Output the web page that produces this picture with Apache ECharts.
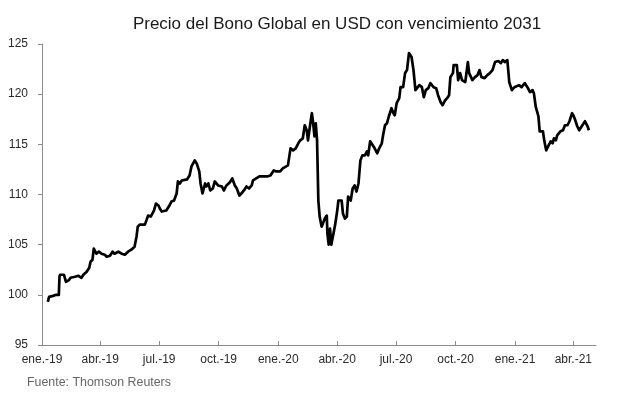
<!DOCTYPE html>
<html>
<head>
<meta charset="utf-8">
<script src="https://cdn.jsdelivr.net/npm/echarts@6/dist/echarts.min.js"></script>
<style>html,body{margin:0;padding:0;background:#fff}#c{width:617px;height:398px}</style>
</head>
<body>
<div id="c"></div>
<script>
var titleText = 'Precio del Bono Global en USD con vencimiento 2031';
var sourceText = 'Fuente: Thomson Reuters';
var yTicks = [95, 100, 105, 110, 115, 120, 125];
var quarterTicks = ['2019-01-01','2019-04-01','2019-07-01','2019-10-01','2020-01-01','2020-04-01','2020-07-01','2020-10-01','2021-01-01','2021-04-01'];
var monthNames = ['ene.','feb.','mar.','abr.','may.','jun.','jul.','ago.','sep.','oct.','nov.','dic.'];

var dates = [
'2019-01-10','2019-01-12','2019-01-18','2019-01-23','2019-01-27','2019-01-28','2019-01-29','2019-02-04','2019-02-07','2019-02-12',
'2019-02-14','2019-02-21','2019-02-26','2019-03-03','2019-03-06','2019-03-11','2019-03-15','2019-03-17','2019-03-20','2019-03-22',
'2019-03-23','2019-03-26','2019-03-30','2019-04-03','2019-04-08','2019-04-11','2019-04-16','2019-04-20','2019-04-23','2019-04-29',
'2019-05-04','2019-05-09','2019-05-14','2019-05-19','2019-05-24','2019-05-27','2019-05-29','2019-06-01','2019-06-04','2019-06-09',
'2019-06-14','2019-06-18','2019-06-23','2019-06-26','2019-06-30','2019-07-02','2019-07-05','2019-07-07','2019-07-12','2019-07-16',
'2019-07-20','2019-07-24','2019-07-28','2019-07-30','2019-08-02','2019-08-05','2019-08-08','2019-08-13','2019-08-17','2019-08-20',
'2019-08-25','2019-08-28','2019-09-01','2019-09-03','2019-09-06','2019-09-10','2019-09-12','2019-09-15','2019-09-18','2019-09-22',
'2019-09-25','2019-09-30','2019-10-06','2019-10-09','2019-10-13','2019-10-18','2019-10-22','2019-10-26','2019-10-29','2019-11-02',
'2019-11-05','2019-11-09','2019-11-13','2019-11-17','2019-11-21','2019-11-23','2019-11-28','2019-12-03','2019-12-06','2019-12-10',
'2019-12-15','2019-12-20','2019-12-25','2019-12-29','2020-01-04','2020-01-08','2020-01-11','2020-01-16','2020-01-20','2020-01-24',
'2020-01-28','2020-02-01','2020-02-04','2020-02-08','2020-02-11','2020-02-14','2020-02-16','2020-02-19','2020-02-22','2020-02-24',
'2020-02-26','2020-02-28','2020-03-01','2020-03-03','2020-03-05','2020-03-08','2020-03-10','2020-03-13','2020-03-16','2020-03-17',
'2020-03-19','2020-03-21','2020-03-23','2020-03-26','2020-03-29','2020-04-01','2020-04-03','2020-04-05','2020-04-08','2020-04-10',
'2020-04-13','2020-04-16','2020-04-18','2020-04-22','2020-04-25','2020-04-28','2020-05-01','2020-05-04','2020-05-07','2020-05-10',
'2020-05-14','2020-05-17','2020-05-19','2020-05-22','2020-05-26','2020-05-29','2020-06-02','2020-06-05','2020-06-09','2020-06-11',
'2020-06-14','2020-06-17','2020-06-20','2020-06-24','2020-06-27','2020-06-29','2020-07-02','2020-07-06','2020-07-08','2020-07-12',
'2020-07-15','2020-07-18','2020-07-21','2020-07-25','2020-07-28','2020-07-31','2020-08-03','2020-08-06','2020-08-10','2020-08-13',
'2020-08-16','2020-08-20','2020-08-23','2020-08-28','2020-09-01','2020-09-04','2020-09-08','2020-09-11','2020-09-15','2020-09-18',
'2020-09-21','2020-09-23','2020-09-27','2020-09-28','2020-10-03','2020-10-05','2020-10-08','2020-10-11','2020-10-16','2020-10-18',
'2020-10-20','2020-10-22','2020-10-24','2020-10-27','2020-10-31','2020-11-04','2020-11-07','2020-11-10','2020-11-15','2020-11-19',
'2020-11-23','2020-11-27','2020-12-01','2020-12-06','2020-12-10','2020-12-13','2020-12-16','2020-12-20','2020-12-23','2020-12-27',
'2020-12-31','2021-01-03','2021-01-07','2021-01-11','2021-01-16','2021-01-20','2021-01-24','2021-01-28','2021-01-30','2021-02-02',
'2021-02-06','2021-02-08','2021-02-13','2021-02-15','2021-02-18','2021-02-21','2021-02-25','2021-02-28','2021-03-02','2021-03-05',
'2021-03-07','2021-03-10','2021-03-12','2021-03-16','2021-03-19','2021-03-23','2021-03-26','2021-03-30','2021-04-01','2021-04-04',
'2021-04-07','2021-04-10','2021-04-14','2021-04-16','2021-04-19','2021-04-22','2021-04-23','2021-04-25'
];
var prices = [
99.3,99.8,99.9,100.0,100.0,101.8,102.0,102.0,101.3,101.5,
101.7,101.8,101.9,101.7,102.0,102.3,102.7,103.3,103.5,104.6,
104.5,104.1,104.3,104.1,104.0,103.8,103.9,104.3,104.1,104.3,
104.1,104.0,104.3,104.5,104.8,105.8,106.8,107.0,107.1,107.0,
107.9,107.8,108.4,109.1,108.9,108.6,108.3,108.2,108.4,108.8,
109.3,109.4,110.1,111.3,111.1,111.4,111.5,111.5,111.9,112.8,
113.4,113.1,112.3,111.1,110.1,111.1,110.8,111.1,110.4,110.6,
111.3,110.9,110.8,110.4,110.9,111.2,111.6,110.9,110.6,109.9,
110.1,110.4,110.8,110.6,110.9,111.4,111.6,111.8,111.9,111.8,
111.8,111.9,112.4,112.3,112.3,112.6,112.6,112.9,114.6,114.4,
114.6,115.1,115.4,115.6,116.9,116.4,115.4,116.8,118.1,117.1,
115.8,117.1,115.4,109.4,107.8,106.8,107.1,107.6,107.9,106.1,
105.0,106.6,105.0,106.0,107.0,108.3,109.4,109.3,109.4,108.1,
107.6,107.8,109.8,109.4,110.6,110.9,110.3,111.1,113.4,113.9,
113.9,114.3,113.9,115.3,114.9,114.6,114.1,114.6,115.1,115.9,
116.9,117.1,117.8,118.6,118.1,117.9,119.1,119.6,120.7,120.7,
122.1,122.4,124.1,123.7,122.4,120.4,120.4,120.9,120.7,119.7,
120.4,120.6,121.1,120.7,120.6,119.9,119.2,118.9,119.4,119.6,
119.9,121.7,122.1,122.9,122.9,121.4,122.1,121.4,121.2,122.2,
123.2,122.1,122.2,121.4,121.7,121.9,122.4,121.7,121.6,121.9,
122.1,122.4,123.2,123.3,123.1,123.4,123.2,123.4,121.2,120.4,
120.7,120.6,120.9,120.7,121.1,120.7,120.2,120.4,120.1,118.7,
117.8,116.3,116.3,115.4,114.4,114.8,115.3,115.1,115.6,115.4,
115.9,115.9,116.3,116.4,116.9,116.9,117.3,118.1,117.9,117.4,
116.8,116.4,116.8,116.9,117.3,117.3,116.8,116.4
];

function toTime(s) {
  var p = s.split('-');
  return Date.UTC(+p[0], +p[1] - 1, +p[2]);
}
var seriesData = dates.map(function (d, i) { return [toTime(d), prices[i]]; });
var tickTimes = quarterTicks.map(toTime);

var FONT = '"Liberation Sans", Arial, Helvetica, sans-serif';
var chart = echarts.init(document.getElementById('c'), null, { renderer: 'canvas' });
chart.setOption({
  animation: false,
  backgroundColor: '#fff',
  grid: { left: 42, right: 21, top: 44, bottom: 53, containLabel: false },
  graphic: [
    { type: 'text', x: 337, y: 24, style: { text: titleText, fill: '#1a1a1a', font: '17px ' + FONT, align: 'center', verticalAlign: 'middle' } },
    { type: 'text', x: 27, y: 383, style: { text: sourceText, fill: '#666', font: '12.4px ' + FONT, align: 'left', verticalAlign: 'middle' } }
  ],
  xAxis: {
    type: 'value',
    min: toTime('2019-01-01'),
    max: toTime('2021-05-06'),
    axisLine: { show: true, onZero: false, lineStyle: { color: '#8c8c8c', width: 1 } },
    axisTick: { show: true, inside: true, length: 4, customValues: tickTimes, lineStyle: { color: '#8c8c8c' } },
    axisLabel: {
      customValues: tickTimes,
      margin: 9,
      color: '#2a2a2a',
      fontSize: 12,
      fontFamily: FONT,
      showMinLabel: true,
      showMaxLabel: true,
      formatter: function (v) {
        var d = new Date(v);
        return monthNames[d.getUTCMonth()] + '-' + String(d.getUTCFullYear()).slice(2);
      }
    },
    splitLine: { show: false }
  },
  yAxis: {
    type: 'value',
    min: yTicks[0],
    max: yTicks[yTicks.length - 1],
    interval: 5,
    axisLine: { show: true, lineStyle: { color: '#8c8c8c', width: 1 } },
    axisTick: { show: true, inside: false, length: 4, lineStyle: { color: '#8c8c8c' } },
    axisLabel: { margin: 14, color: '#2a2a2a', fontSize: 12, fontFamily: FONT },
    splitLine: { show: false }
  },
  series: [{
    type: 'line',
    data: seriesData,
    showSymbol: false,
    symbol: 'none',
    lineStyle: { color: '#000', width: 2.7, join: 'round' },
    z: 3
  }]
});
</script>
</body>
</html>
